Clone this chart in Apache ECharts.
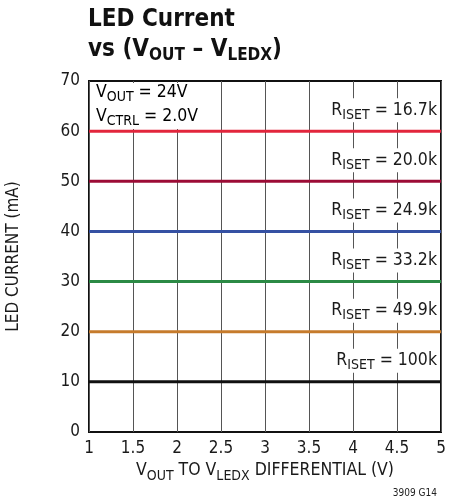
<!DOCTYPE html>
<html><head><meta charset="utf-8">
<script src="https://cdn.jsdelivr.net/npm/echarts@6/dist/echarts.min.js"></script>
<style>html,body{margin:0;padding:0;background:#fff}#c{width:451px;height:502px}</style>
</head><body><div id="c"></div>
<script>
var FONT = '"Liberation Sans Narrow","DejaVu Sans Condensed","Liberation Sans",sans-serif';
var xRange = [1, 5];
var currents = [60, 50, 40, 30, 20, 10];
var risetLabels = ['16.7k', '20.0k', '24.9k', '33.2k', '49.9k', '100k'];
var colors = ['#e2263c', '#9c0c36', '#3551a3', '#2b8a45', '#c67b2c', '#111111'];

var chart = echarts.init(document.getElementById('c'), null, {renderer: 'canvas'});
var rich = {
  a: {fontSize: 17.5, fontFamily: FONT, color: '#1a1a1a'},
  s: {fontSize: 14, fontFamily: FONT, color: '#1a1a1a', padding: [10, 0, 0, 0]}
};
var series = [];
currents.forEach(function (v, i) {
  series.push({
    type: 'line', data: [[xRange[0], v], [xRange[1], v]], symbol: 'none',
    lineStyle: {color: colors[i], width: 3}, z: 3, silent: true
  });
  series.push({
    type: 'scatter', data: [[xRange[1], v]], symbolSize: 0, itemStyle: {color: '#fff', opacity: 1}, z: 4, silent: true,
    label: {show: true, position: 'left', offset: [3, -21], backgroundColor: '#fff', padding: [0, 2, 0, 3],
      color: '#1a1a1a', opacity: 1,
      formatter: '{a|R}{s|ISET}{a| = ' + risetLabels[i] + '}', rich: rich}
  });
});

chart.setOption({
  animation: false,
  grid: {left: 89, right: 10, top: 81, bottom: 70, show: true, borderColor: '#111', borderWidth: 2,
    backgroundColor: 'transparent', containLabel: false, outerBoundsMode: 'none'},
  xAxis: {
    type: 'value', min: 1, max: 5, interval: 0.5,
    axisLine: {show: false}, axisTick: {show: false},
    splitLine: {show: true, lineStyle: {color: '#555', width: 1}},
    axisLabel: {color: '#1a1a1a', fontSize: 17, fontFamily: FONT, margin: 8,
      formatter: function (v) { return String(v); }},
    name: '{a|V}{s|OUT}{a| TO V}{s|LEDX}{a| DIFFERENTIAL (V)}', nameLocation: 'middle', nameGap: 26,
    nameTextStyle: {rich: rich}
  },
  yAxis: {
    type: 'value', min: 0, max: 70, interval: 10,
    axisLine: {show: false}, axisTick: {show: false}, splitLine: {show: false},
    axisLabel: {color: '#1a1a1a', fontSize: 17, fontFamily: FONT, margin: 9},
    name: 'LED CURRENT (mA)', nameLocation: 'middle', nameGap: 67, nameRotate: 90,
    nameTextStyle: {color: '#1a1a1a', fontSize: 17, fontFamily: FONT}
  },
  series: series,
  graphic: [
    {type: 'text', left: 88, top: 8, style: {text: 'LED Current', font: 'bold 24px ' + FONT, fill: '#111'}},
    {type: 'text', left: 88, top: 38, style: {
      text: '{b|vs (V}{bs|OUT}{b| – V}{bs|LEDX}{b|)}',
      rich: {b: {font: 'bold 24px ' + FONT, fill: '#111'}, bs: {font: 'bold 17px ' + FONT, fill: '#111', padding: [12, 0, 0, 0]}}
    }},
    {type: 'rect', left: 91, top: 83, shape: {width: 125, height: 46}, style: {fill: '#fff'}, z: 5},
    {type: 'text', left: 96, top: 83, z: 6, style: {
      text: '{a|V}{s|OUT}{a| = 24V}\n{a|V}{s|CTRL}{a| = 2.0V}', rich: rich
    }},
    {type: 'text', right: 14, bottom: 4, style: {text: '3909 G14', font: '10px ' + FONT, fill: '#222'}}
  ]
});
</script></body></html>
